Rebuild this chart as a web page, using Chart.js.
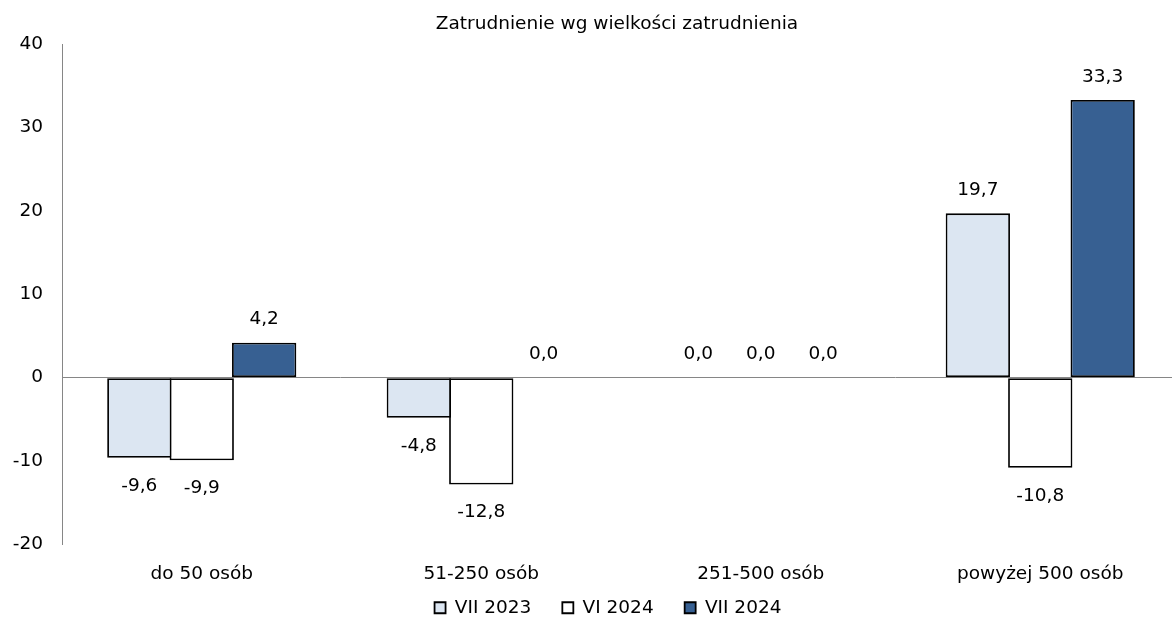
<!DOCTYPE html>
<html>
<head>
<meta charset="utf-8">
<title>Zatrudnienie wg wielkości zatrudnienia</title>
<script src="https://cdn.jsdelivr.net/npm/chart.js@4/dist/chart.umd.min.js"></script>
<style>
    html, body { margin: 0; padding: 0; background: #fff; }
    canvas { display: block; }
</style>
</head>
<body>
<canvas id="chart" width="1172" height="619"></canvas>
<script>
    // data
    const categories = ['do 50 osób', '51-250 osób', '251-500 osób', 'powyżej 500 osób'];
    const seriesNames = ['VII 2023', 'VI 2024', 'VII 2024'];
    const vii2023 = [-9.6, -4.8, 0.0, 19.7];
    const vi2024 = [-9.9, -12.8, 0.0, -10.8];
    const vii2024 = [4.2, 0.0, 0.0, 33.3];
    const yTicks = [-20, -10, 0, 10, 20, 30, 40];

    const FONT = "'DejaVu Sans', Tahoma, Verdana, sans-serif";
    const FONT_SIZE = 18.5;
    const AXIS_GREY = '#868686';

    Chart.defaults.font.family = FONT;
    Chart.defaults.font.size = FONT_SIZE;
    Chart.defaults.color = '#000';

    const fmt = (v) => v.toFixed(1).replace('.', ',');

    // value labels above positive bars, below negative ones
    const barValueLabels = {
        id: 'barValueLabels',
        afterDatasetsDraw(chart) {
            const ctx = chart.ctx;
            ctx.save();
            ctx.fillStyle = '#000';
            ctx.font = `${FONT_SIZE}px ${FONT}`;
            ctx.textAlign = 'center';
            ctx.textBaseline = 'middle';
            chart.data.datasets.forEach((dataset, di) => {
                const meta = chart.getDatasetMeta(di);
                if (meta.hidden) return;
                meta.data.forEach((el, i) => {
                    const v = dataset.data[i];
                    const y = v >= 0 ? el.y - 23 : el.y + 28;
                    ctx.fillText(fmt(v), el.x, y);
                });
            });
            ctx.restore();
        }
    };

    // the plot in the reference runs a little past the right edge,
    // and title / legend sit off the canvas centre
    const nudgeBoxes = {
        id: 'nudgeBoxes',
        afterLayout(chart) {
            const xs = chart.scales.x;
            xs.right += 8;
            xs.width += 8;
            xs.configure();
            chart.chartArea.right += 8;
            chart.chartArea.width += 8;

            const t = chart.titleBlock;
            if (t) { t.left += 31; t.right += 31; }
            const lg = chart.legend;
            if (lg) {
                lg.left += 22; lg.right += 22;
                lg.top -= 22; lg.bottom -= 22;
            }
        }
    };

    function bar(label, data, fill) {
        return {
            label: label,
            data: data,
            backgroundColor: fill,
            borderColor: '#000',
            borderWidth: (c) => (c.raw === 0 ? 0 : 1.8),
            borderSkipped: false,
            categoryPercentage: 0.67,
            barPercentage: 1.03
        };
    }

    new Chart(document.getElementById('chart'), {
        type: 'bar',
        plugins: [barValueLabels, nudgeBoxes],
        data: {
            labels: categories,
            datasets: [
                bar(seriesNames[0], vii2023, '#DCE6F2'),
                bar(seriesNames[1], vi2024, '#FFFFFF'),
                bar(seriesNames[2], vii2024, '#376092')
            ]
        },
        options: {
            responsive: false,
            animation: false,
            devicePixelRatio: 1,
            layout: { padding: { left: 0, right: 0, top: 0, bottom: -30 } },
            plugins: {
                title: {
                    display: true,
                    text: 'Zatrudnienie wg wielkości zatrudnienia',
                    color: '#000',
                    font: { size: FONT_SIZE, weight: 'normal' },
                    padding: { top: 13, bottom: 8.8 }
                },
                legend: {
                    position: 'bottom',
                    labels: {
                        boxWidth: 11,
                        boxHeight: 11,
                        padding: 31,
                        color: '#000',
                        font: { size: FONT_SIZE }
                    }
                },
                tooltip: { enabled: false }
            },
            scales: {
                x: {
                    grid: { display: false, drawTicks: false },
                    border: { display: false },
                    ticks: { padding: 19, color: '#000', font: { size: FONT_SIZE } },
                    afterFit(s) { s.height = 45; }
                },
                y: {
                    min: -20,
                    max: 40,
                    afterBuildTicks(s) { s.ticks = yTicks.map((v) => ({ value: v })); },
                    afterFit(s) { s.width = 62; },
                    grid: {
                        drawTicks: false,
                        color: (c) => (c.tick && c.tick.value === 0 ? AXIS_GREY : 'rgba(0,0,0,0)'),
                        lineWidth: 1
                    },
                    border: { display: true, color: AXIS_GREY, width: 1 },
                    ticks: { padding: 19, color: '#000', font: { size: FONT_SIZE } }
                }
            }
        }
    });
</script>
</body>
</html>
